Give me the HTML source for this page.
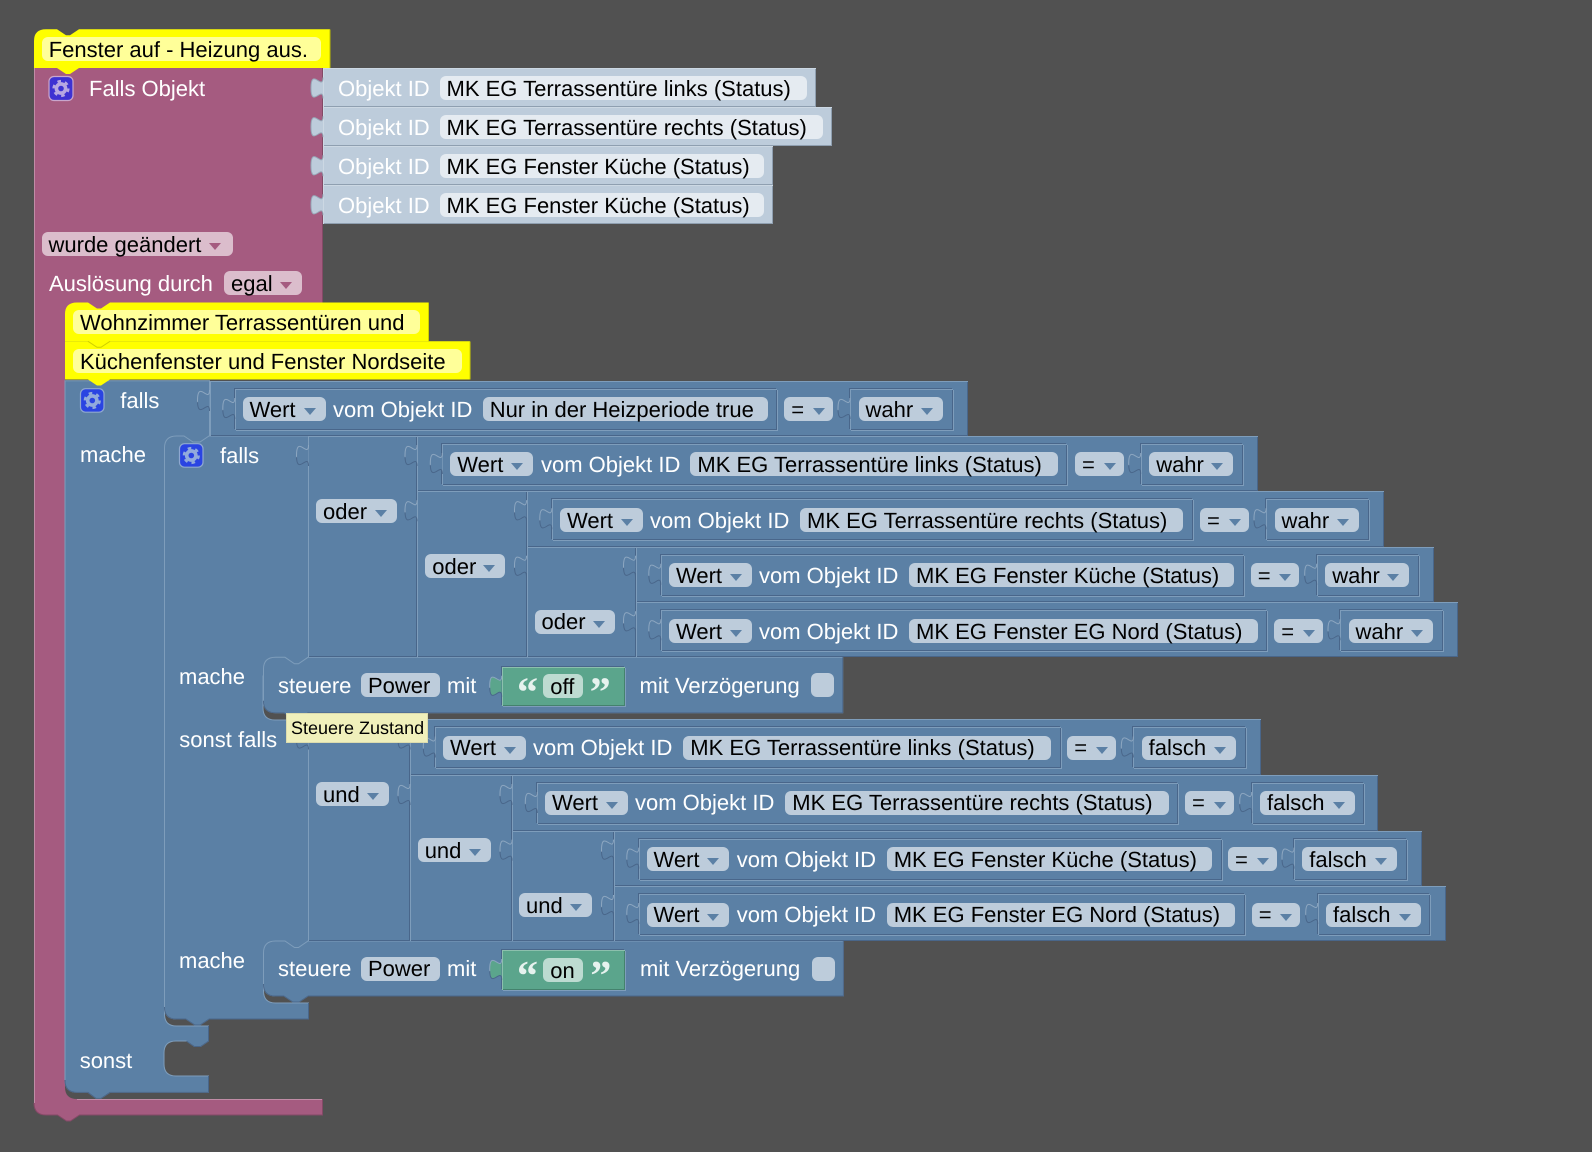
<!DOCTYPE html>
<html lang="de"><head><meta charset="utf-8"><title>Fenster auf - Heizung aus</title>
<style>
html,body{margin:0;padding:0;background:#515151}
#p{position:relative;width:1592px;height:1152px;overflow:hidden;background:#515151;font:22px/25px "Liberation Sans",Arial,sans-serif;color:#fff;text-rendering:geometricPrecision}
#p div,#p svg{position:absolute}
svg{left:0;top:0}
b{position:absolute;top:16px;height:24px;background:rgba(255,255,255,.6);border-radius:6px;font-weight:normal;color:#000;padding-left:7px;box-sizing:border-box;white-space:nowrap}
u{position:absolute;right:10px;top:10.5px;width:0;height:0;border:6px solid transparent;border-bottom:0;border-top:7px solid #5b80a5;text-decoration:none}
.l{position:absolute;top:16px;color:#fff;white-space:nowrap}
.d b,.d .l{top:17px}
.e b,.e .l{line-height:23px}
.r{background:#5b80a5;box-shadow:inset 1px 1px #7e9dbb,inset -1px -1px #49668a}
.n{top:8px;height:40.5px;box-shadow:-1px -1px #49668a,1px 1px #7e9dbb,inset 1px 1px #7e9dbb,inset -1px -1px #49668a}
.n0{left:25px}
.o{left:323px;height:39px;background:#bdccdb;box-shadow:inset 1px 1px #ccd8e3,inset -1px -1px #8f9fb0}
.o b{top:8px;left:116.5px}
.o .l{top:8px;left:15px}
.g{background:#5ba58c;box-shadow:-1px -1px #49668a,1px 1px #7e9dbb,inset 1px 1px #8cc0ad,inset -1px -1px #44826d}
.a{top:0;left:0}
.pk u{border-top-color:#a55b80}
.tb{fill:#5b80a5;stroke:url(#sg);stroke-width:1}
.tl{fill:#bdccdb;stroke:#97a8b8;stroke-width:1}
.tg{fill:#5ba58c;stroke:url(#sg);stroke-width:1}
.q{font:bold 42px "Liberation Serif",serif;fill:#e6f2ee}
#t1{position:absolute;left:286px;top:713px;width:142px;height:30px;background:#f0f0bb;box-shadow:inset 0 0 0 1px #dcdcae;color:#000;font-size:18px;line-height:24px;padding:3px 0 0 5px;box-sizing:border-box;white-space:nowrap}
</style></head><body><div id="p">

<svg width="1592" height="1152" viewBox="0 0 1592 1152">
<path d="M34,68 H322.5 V316 H65 V1087 Q65,1099 77,1099 H322.5 V1115 H79.5 l-9,6 h-4 l-9,-6 H46 Q34,1115 34,1103 Z" fill="#a55b80"/>
<path d="M34.5,68 V1103 M77,1099.5 H322" stroke="#c08ca6" fill="none"/>
<path d="M322.5,68 V302 M322.5,1099 V1115 H79.5 l-9,6 h-4 l-9,-6 H46 Q34,1115 34,1103" stroke="#844966" fill="none"/>

<path d="M65,380.7 H209.5 V452 H164.5 V1014 Q164.5,1026 176.5,1026 H208.5 V1041 l-8,5.5 h-6 l-8,-5.5 H176 Q164,1041 164,1053 V1064 Q164,1076 176,1076 H208.5 V1092.3 H110 l-9,6 h-5 l-8,-6 H77 Q65,1092.3 65,1080 Z" fill="#5b80a5" stroke="#7e9dbb"/>
<path d="M208.5,1026 V1041 l-8,5.5 h-6 l-8,-5.5 M208.5,1076 V1092.3 H110 l-9,6 h-5 l-8,-6 H77 Q65,1092.3 65,1080" stroke="#49668a" fill="none"/>

<path d="M164.5,448 Q164.5,436 176.5,436 H184 l9,6 h7 l9,-6 H308.5 V676 H263 V708 Q263,720 275,720 H308.5 V960 H263.5 V991 Q263.5,1003 275.5,1003 H308.5 V1019 H209 l-9,6 h-5 l-9,-6 H176.5 Q164.5,1019 164.5,1007 Z" fill="#5b80a5" stroke="#7e9dbb"/>
<path d="M308.5,1003 V1019 H209 l-9,6 h-5 l-9,-6 H176.5 Q164.5,1019 164.5,1007" stroke="#49668a" fill="none"/>

<path d="M263.5,669 Q263.5,657.3 275.5,657.3 H285 l9.5,6.5 h4 l9.5,-6.5 H842.7 V712.7 H308 l-9,6 h-6 l-9,-6 H275.5 Q263.5,712.7 263.5,700.7 Z" fill="#5b80a5" stroke="#7e9dbb"/>
<path d="M842.7,657.3 V712.7 H308 l-9,6 h-6 l-9,-6 H275.5 Q263.5,712.7 263.5,700.7" stroke="#49668a" fill="none"/>

<path d="M263.5,953 Q263.5,941 275.5,941 H285 l9.5,6.5 h4 l9.5,-6.5 H843.3 V996 H308 l-9,6 h-6 l-9,-6 H275.5 Q263.5,996 263.5,984 Z" fill="#5b80a5" stroke="#7e9dbb"/>
<path d="M843.3,941 V996 H308 l-9,6 h-6 l-9,-6 H275.5 Q263.5,996 263.5,984" stroke="#49668a" fill="none"/>

<path d="M34,68 V41 Q34,29.3 46,29.3 H57 l9,6 h4 l9,-6 H330 V68 H79 l-9,6 h-4 l-9,-6 Z" fill="#ffff00"/>
<path d="M330,29.5 V68" stroke="#bdbd00" fill="none"/>
<path d="M65,341.3 H470 V379.5 H110 l-9,6 h-4 l-9,-6 H65 Z" fill="#ffff00"/>
<path d="M65,341.3 V314 Q65,302.5 77,302.5 H88 l9,6 h4 l9,-6 H428.5 V341.3 H110 l-9,6 h-4 l-9,-6 Z" fill="#ffff00"/>
<path d="M428.5,302.5 V341 M470,341.5 V379.5 M88,341.3 l9,6 h4 l9,-6" stroke="#cfcf00" fill="none"/>
</svg>

<!-- comments -->
<b style="left:41.7px;top:37px;width:279.6px;height:24px">Fenster auf - Heizung aus.</b>
<b style="left:73px;top:310px;width:347px">Wohnzimmer Terrassentüren und</b>
<b style="left:73px;top:349px;width:389px">Küchenfenster und Fenster Nordseite</b>

<!-- hat block -->
<span class="l" style="left:89px;top:76px">Falls Objekt</span>
<div class="o" style="top:68px;width:492.7px"><span class="l">Objekt ID</span><b style="width:367.2px">MK EG Terrassentüre links (Status)</b></div>
<div class="o" style="top:107px;width:509.3px"><span class="l">Objekt ID</span><b style="width:383.8px">MK EG Terrassentüre rechts (Status)</b></div>
<div class="o" style="top:146px;width:450.3px"><span class="l">Objekt ID</span><b style="width:324.8px">MK EG Fenster Küche (Status)</b></div>
<div class="o" style="top:185px;width:450.3px"><span class="l">Objekt ID</span><b style="width:324.8px">MK EG Fenster Küche (Status)</b></div>
<div class="a pk"><b style="left:41.5px;top:232px;width:191.5px">wurde geändert<u style="right:12px"></u></b>
<span class="l" style="left:49px;top:271px">Auslösung durch</span>
<b style="left:224px;top:271px;width:78px">egal<u></u></b></div>

<!-- labels on blue -->
<span class="l" style="left:120.3px;top:388px">falls</span>
<span class="l" style="left:80px;top:442px">mache</span>
<span class="l" style="left:220px;top:443px">falls</span>
<span class="l" style="left:179px;top:664px">mache</span>
<span class="l" style="left:179.3px;top:727px">sonst falls</span>
<span class="l" style="left:179px;top:948px">mache</span>
<span class="l" style="left:79.7px;top:1048px">sonst</span>

<!-- or blocks: first branch -->
<div class="r" style="left:308px;top:436px;width:109px;height:221px"><b style="left:8px;top:63px;width:81px">oder<u></u></b></div>
<div class="r" style="left:417px;top:491px;width:110px;height:166px"><b style="left:8.3px;top:63px;width:80px">oder<u></u></b></div>
<div class="r" style="left:527px;top:547px;width:109px;height:110px"><b style="left:7.5px;top:63px;width:80px;line-height:23px">oder<u></u></b></div>

<!-- and blocks: second branch -->
<div class="r" style="left:308px;top:719px;width:102px;height:222px"><b style="left:8px;top:63px;width:73px">und<u></u></b></div>
<div class="r" style="left:410px;top:775px;width:102px;height:166px"><b style="left:7.7px;top:63px;width:73px">und<u></u></b></div>
<div class="r" style="left:512px;top:831px;width:102px;height:110px"><b style="left:7px;top:62px;width:73.3px">und<u></u></b></div>

<!-- comparison rows -->
<div class="r" style="left:209.5px;top:381px;width:758.2px;height:55px"><div class="n n0" style="width:542.5px"></div><b style="left:33px;width:83px">Wert<u></u></b><span class="l" style="left:123.5px">vom Objekt ID</span><b style="left:273.2px;width:285px">Nur in der Heizperiode true</b><b style="left:574.8px;width:48.5px">=<u style="right:8px"></u></b><div class="n" style="left:640.5px;width:102.5px"></div><b style="left:649px;width:84px">wahr<u></u></b></div>

<div class="r" style="left:417px;top:436px;width:841.3px;height:55px"><div class="n n0" style="width:625.3px"></div><b style="left:33.3px;width:83px">Wert<u></u></b><span class="l" style="left:124px">vom Objekt ID</span><b style="left:273.4px;width:367.9px">MK EG Terrassentüre links (Status)</b><b style="left:658px;width:48.5px">=<u style="right:8px"></u></b><div class="n" style="left:723.7px;width:102.5px"></div><b style="left:732.2px;width:84px">wahr<u></u></b></div>

<div class="r d" style="left:526.5px;top:491px;width:857.5px;height:56px"><div class="n n0" style="width:641.3px"></div><b style="left:33.5px;width:83px">Wert<u></u></b><span class="l" style="left:123.5px">vom Objekt ID</span><b style="left:273.5px;width:383.3px">MK EG Terrassentüre rechts (Status)</b><b style="left:673.5px;width:48.5px">=<u style="right:8px"></u></b><div class="n" style="left:739.5px;width:102.5px"></div><b style="left:748px;width:84px">wahr<u></u></b></div>

<div class="r" style="left:635.5px;top:547px;width:798.5px;height:55px"><div class="n n0" style="width:583.3px"></div><b style="left:33.5px;width:83px">Wert<u></u></b><span class="l" style="left:123.5px">vom Objekt ID</span><b style="left:273.5px;width:325.3px">MK EG Fenster Küche (Status)</b><b style="left:615.2px;width:48.5px">=<u style="right:8px"></u></b><div class="n" style="left:681.2px;width:102.5px"></div><b style="left:689.7px;width:84px">wahr<u></u></b></div>

<div class="r d" style="left:635.5px;top:602px;width:822.8px;height:55px"><div class="n n0" style="width:606.7px"></div><b style="left:33.5px;width:83px">Wert<u></u></b><span class="l" style="left:123.5px">vom Objekt ID</span><b style="left:273.5px;width:348.7px">MK EG Fenster EG Nord (Status)</b><b style="left:638.8px;width:48.5px">=<u style="right:8px"></u></b><div class="n" style="left:704.5px;width:102.5px"></div><b style="left:713px;width:84px">wahr<u></u></b></div>

<div class="r d e" style="left:410px;top:719px;width:850.7px;height:56px"><div class="n n0" style="width:626px"></div><b style="left:33px;width:82.7px">Wert<u></u></b><span class="l" style="left:123px">vom Objekt ID</span><b style="left:273.3px;width:367.7px">MK EG Terrassentüre links (Status)</b><b style="left:657.3px;width:48.7px">=<u style="right:8px"></u></b><div class="n" style="left:723.3px;width:112.5px"></div><b style="left:731.6px;width:94.5px">falsch<u></u></b></div>

<div class="r e" style="left:512px;top:775px;width:866.3px;height:56px"><div class="n n0" style="width:641px"></div><b style="left:33px;width:82.7px">Wert<u></u></b><span class="l" style="left:123px">vom Objekt ID</span><b style="left:273.3px;width:383.7px">MK EG Terrassentüre rechts (Status)</b><b style="left:673px;width:48.7px">=<u style="right:8px"></u></b><div class="n" style="left:739.7px;width:112.5px"></div><b style="left:748px;width:94.5px">falsch<u></u></b></div>

<div class="r" style="left:613.5px;top:831px;width:808.2px;height:55px"><div class="n n0" style="width:583.2px"></div><b style="left:33px;width:82.7px">Wert<u></u></b><span class="l" style="left:123.2px">vom Objekt ID</span><b style="left:273.2px;width:325px">MK EG Fenster Küche (Status)</b><b style="left:614.5px;width:48.7px">=<u style="right:8px"></u></b><div class="n" style="left:680.5px;width:112.5px"></div><b style="left:688.8px;width:94.5px">falsch<u></u></b></div>

<div class="r d e" style="left:613.5px;top:886px;width:832.2px;height:55px"><div class="n n0" style="width:606.5px"></div><b style="left:33px;width:82.7px">Wert<u></u></b><span class="l" style="left:123.2px">vom Objekt ID</span><b style="left:273.2px;width:348.6px">MK EG Fenster EG Nord (Status)</b><b style="left:638.2px;width:48.7px">=<u style="right:8px"></u></b><div class="n" style="left:704.2px;width:112.5px"></div><b style="left:712.5px;width:94.5px">falsch<u></u></b></div>

<!-- steuere blocks -->
<span class="l" style="left:278px;top:673px">steuere</span>
<b style="left:361px;top:673px;width:78.7px">Power</b>
<span class="l" style="left:447px;top:673px">mit</span>
<div class="g" style="left:501.7px;top:667px;width:123.3px;height:39px"></div>
<b style="left:543.3px;top:674px;width:39.4px">off</b>
<span class="l" style="left:639.5px;top:673px">mit Verzögerung</span>
<b style="left:811px;top:673px;width:23.3px"></b>

<span class="l" style="left:278px;top:956px">steuere</span>
<b style="left:361px;top:957px;width:78.7px;line-height:23px">Power</b>
<span class="l" style="left:447px;top:956px">mit</span>
<div class="g" style="left:501.7px;top:950px;width:123.3px;height:39.5px"></div>
<b style="left:543.3px;top:958px;width:40px">on</b>
<span class="l" style="left:640px;top:956px">mit Verzögerung</span>
<b style="left:811.7px;top:956.5px;width:23.3px"></b>

<svg width="1592" height="1152" viewBox="0 0 1592 1152">
<defs>
<linearGradient id="sg" x1="0" y1="0" x2="0" y2="1"><stop offset=".55" stop-color="#8ca6c0"/><stop offset=".6" stop-color="#49668a"/></linearGradient>
<path id="t" d="M0,0 c0,14 -12,-11 -12,10.5 s12,-3.5 12,10.5"/>
<g id="cog" fill="none"><circle cx="12" cy="12" r="4.6" stroke="currentColor" stroke-width="3.6"/><circle cx="12" cy="12" r="7.4" stroke="currentColor" stroke-width="2.4" stroke-dasharray="3.6 4.15"/></g>
</defs>
<g class="tl">
<use href="#t" x="323" y="77.5"/><use href="#t" x="323" y="116.3"/><use href="#t" x="323" y="155.3"/><use href="#t" x="323" y="194.3"/>
</g>
<g class="tb">
<use href="#t" x="209.5" y="390"/><use href="#t" x="417" y="445"/><use href="#t" x="526.5" y="500.3"/><use href="#t" x="635.5" y="555.7"/><use href="#t" x="635.5" y="611.3"/>
<use href="#t" x="410" y="728.5"/><use href="#t" x="512" y="784"/><use href="#t" x="613.5" y="839.6"/><use href="#t" x="613.5" y="895"/>
<use href="#t" x="308.5" y="445"/><use href="#t" x="417" y="500.3"/><use href="#t" x="526.5" y="555.7"/>
<use href="#t" x="308.5" y="728.5"/><use href="#t" x="410" y="784"/><use href="#t" x="512" y="839.6"/>
<use href="#t" x="234.8" y="398"/><use href="#t" x="442.3" y="453"/><use href="#t" x="551.8" y="508.3"/><use href="#t" x="660.8" y="563.7"/><use href="#t" x="660.8" y="619.3"/>
<use href="#t" x="435.3" y="736.5"/><use href="#t" x="537.3" y="792"/><use href="#t" x="638.8" y="847.6"/><use href="#t" x="638.8" y="903"/>
<use href="#t" x="850" y="398"/><use href="#t" x="1140.7" y="453"/><use href="#t" x="1266" y="508.3"/><use href="#t" x="1316.7" y="563.7"/><use href="#t" x="1340" y="619.3"/>
<use href="#t" x="1133.3" y="736.5"/><use href="#t" x="1251.7" y="792"/><use href="#t" x="1294" y="847.6"/><use href="#t" x="1317.7" y="903"/>
</g>
<g class="tg"><use href="#t" x="501.7" y="675.7"/><use href="#t" x="501.7" y="959"/></g>

<rect x="49" y="76.5" width="24" height="24" rx="5" fill="#3d32d2" stroke="#c9a6cc" stroke-width="1.2"/>
<use href="#cog" x="49" y="76.5" style="color:#b7a8e2"/>
<rect x="80.5" y="388.7" width="23.5" height="23.5" rx="5" fill="#2a44e2" stroke="#8fa8d0" stroke-width="1.2"/>
<use href="#cog" x="80.3" y="388.5" style="color:#92abdc"/>
<rect x="179.5" y="443.7" width="23.5" height="23.5" rx="5" fill="#2a44e2" stroke="#8fa8d0" stroke-width="1.2"/>
<use href="#cog" x="179.3" y="443.5" style="color:#92abdc"/>

<text class="q" x="517" y="706">“</text><text class="q" x="589.7" y="706">”</text>
<text class="q" x="517" y="989.3">“</text><text class="q" x="590.4" y="989.3">”</text>
</svg>

<div id="t1">Steuere Zustand</div>
</div></body></html>
